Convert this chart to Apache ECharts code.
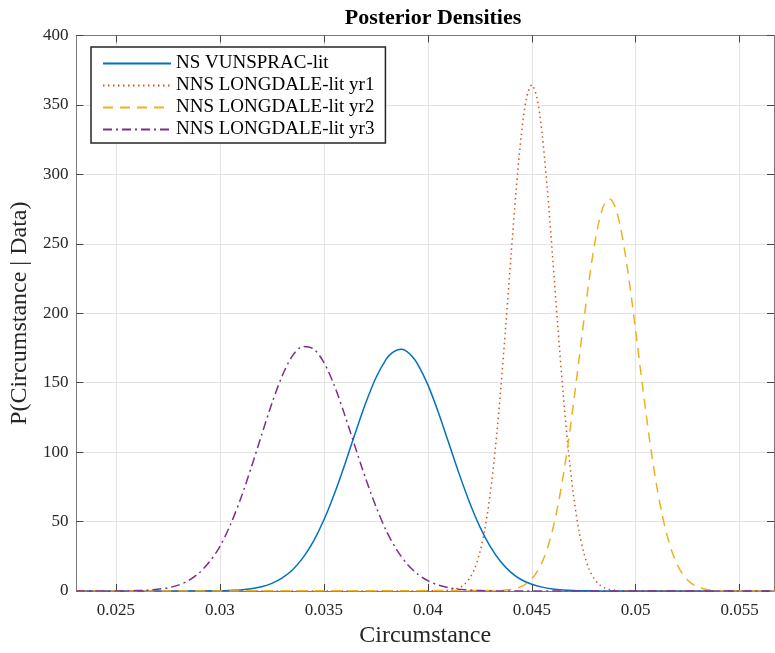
<!DOCTYPE html>
<html>
<head>
<meta charset="utf-8">
<script src="https://cdn.jsdelivr.net/npm/echarts@6/dist/echarts.min.js"></script>
<style>html,body{margin:0;padding:0;background:#fff;}#c{width:775px;height:653px;}</style>
</head>
<body>
<div id="c"></div>
<script>
// ---- data ----
const seriesNames = ['NS VUNSPRAC-lit', 'NNS LONGDALE-lit yr1', 'NNS LONGDALE-lit yr2', 'NNS LONGDALE-lit yr3'];
const xMin = 0.0231;
const xMax = 0.05665;
const xTicks = [0.025, 0.03, 0.035, 0.04, 0.045, 0.05, 0.055];
const yTicks = [0, 50, 100, 150, 200, 250, 300, 350, 400];

const blueX = [0.0231, 0.0300, 0.0305, 0.0310, 0.0315, 0.0320, 0.0325, 0.0330, 0.0335, 0.0340, 0.0345, 0.0350, 0.0355, 0.0360, 0.0365, 0.0370, 0.0375, 0.0380, 0.03825, 0.0385, 0.03875, 0.0390, 0.03925, 0.0395, 0.0400, 0.0405, 0.0410, 0.0415, 0.0420, 0.0425, 0.0430, 0.0435, 0.0440, 0.0445, 0.0450, 0.0455, 0.0460, 0.0465, 0.0470, 0.0475, 0.0485, 0.05665];
const blueY = [0, 0.1, 0.4, 0.8, 1.6, 3.1, 5.5, 9.4, 15.3, 24.0, 35.8, 51.1, 69.7, 90.8, 113.2, 134.8, 153.4, 166.9, 171.1, 173.4, 174.0, 172.4, 168.9, 163.7, 148.6, 128.9, 106.9, 84.7, 64.1, 46.4, 32.1, 21.2, 13.4, 8.1, 4.9, 2.8, 1.5, 0.8, 0.4, 0.2, 0, 0];

const redX = [0.0231, 0.0405, 0.0410, 0.04125, 0.0415, 0.04175, 0.0420, 0.04225, 0.0425, 0.04275, 0.0430, 0.04325, 0.0435, 0.04375, 0.0440, 0.04425, 0.0445, 0.04475, 0.0450, 0.04525, 0.0455, 0.04575, 0.0460, 0.04625, 0.0465, 0.04675, 0.0470, 0.04725, 0.0475, 0.04775, 0.0480, 0.04825, 0.0485, 0.04875, 0.0490, 0.0495, 0.05665];
const redY = [0, 0.1, 0.5, 1.1, 2.3, 4.6, 8.9, 16.0, 27.6, 45.0, 69.8, 102.8, 143.8, 191.1, 241.2, 288.9, 328.7, 355.2, 364.5, 355.2, 328.7, 288.9, 241.2, 191.1, 143.8, 102.8, 69.8, 45.0, 27.6, 16.0, 8.9, 4.6, 2.3, 1.1, 0.5, 0.1, 0];

const yellowX = [0.0231, 0.0435, 0.0440, 0.04425, 0.0445, 0.04475, 0.0450, 0.04525, 0.0455, 0.04575, 0.0460, 0.04625, 0.0465, 0.04675, 0.0470, 0.04725, 0.0475, 0.04775, 0.0480, 0.04825, 0.0485, 0.04875, 0.0490, 0.04925, 0.0495, 0.04975, 0.0500, 0.05025, 0.0505, 0.05075, 0.0510, 0.05125, 0.0515, 0.05175, 0.0520, 0.05225, 0.0525, 0.05275, 0.0530, 0.05325, 0.0535, 0.0540, 0.0545, 0.05665];
const yellowY = [0, 0.4, 1.0, 1.9, 3.2, 5.4, 8.7, 13.7, 20.8, 30.7, 43.9, 60.9, 81.8, 106.4, 134.2, 164.0, 194.3, 222.9, 247.9, 267.2, 279.0, 282.3, 276.9, 263.1, 242.3, 216.3, 187.0, 156.8, 127.3, 100.2, 76.4, 56.5, 40.4, 28.1, 18.9, 12.3, 7.8, 4.7, 2.8, 1.6, 0.9, 0.2, 0, 0];

const purpleX = [0.0231, 0.0255, 0.0260, 0.0265, 0.0270, 0.0275, 0.0280, 0.0285, 0.0290, 0.0295, 0.0300, 0.0305, 0.0310, 0.0315, 0.0320, 0.0325, 0.0330, 0.0335, 0.0340, 0.0345, 0.0350, 0.0355, 0.0360, 0.0365, 0.0370, 0.0375, 0.0380, 0.0385, 0.0390, 0.0395, 0.0400, 0.0405, 0.0410, 0.0415, 0.0420, 0.0425, 0.0435, 0.05665];
const purpleY = [0, 0.1, 0.3, 0.6, 1.2, 2.3, 4.2, 7.6, 13.0, 21.0, 32.0, 47.5, 66.5, 88.5, 112.0, 135.0, 155.0, 169.5, 176.1, 174.4, 164.7, 148.1, 127.0, 104.0, 81.5, 61.0, 43.5, 29.8, 19.5, 12.3, 7.5, 4.3, 2.4, 1.2, 0.6, 0.3, 0, 0];

// ---- chart ----
const FONT = 'Liberation Serif';
const AXIS = '#7a7a7a';
const TXT = '#262626';
function pairs(xs, ys) { return xs.map((x, i) => [x, ys[i]]); }

const colors = ['#0072BD', '#D95319', '#EDB120', '#7E2F8E'];
const dashes = ['solid', [1.5, 3.5], [10, 7], [9, 4, 2, 4]];
const dataSets = [pairs(blueX, blueY), pairs(redX, redY), pairs(yellowX, yellowY), pairs(purpleX, purpleY)];

const series = seriesNames.map((name, i) => ({
  name: name,
  type: 'line',
  data: dataSets[i],
  symbol: 'none',
  smooth: 0.3,
  xAxisIndex: 0,
  yAxisIndex: 0,
  lineStyle: { color: colors[i], width: 1.5, type: dashes[i] },
  itemStyle: { color: colors[i] },
  z: 3 + i
}));

const chart = echarts.init(document.getElementById('c'), null, { renderer: 'canvas' });
chart.setOption({
  animation: false,
  backgroundColor: '#fff',
  textStyle: { fontFamily: FONT },
  title: {
    text: 'Posterior Densities',
    left: 428, top: 2, textAlign: 'center',
    textStyle: { fontFamily: FONT, fontWeight: 'bold', fontSize: 22, color: '#000' }
  },
  legend: {
    orient: 'vertical',
    left: 91, top: 47,
    padding: [7, 11, 4, 11],
    itemWidth: 68, itemHeight: 19, itemGap: 3,
    backgroundColor: '#fff',
    borderColor: '#262626', borderWidth: 1.5, borderRadius: 0,
    itemStyle: { opacity: 0 },
    textStyle: { fontFamily: FONT, fontSize: 19, color: '#000' },
    data: seriesNames
  },
  grid: { left: 76, right: 1, top: 35.5, bottom: 60.5, containLabel: false },
  xAxis: [{
    type: 'value', min: xMin, max: xMax, position: 'bottom',
    name: 'Circumstance', nameLocation: 'middle', nameGap: 33,
    nameTextStyle: { fontFamily: FONT, fontSize: 24, color: TXT },
    axisLine: { show: true, onZero: false, lineStyle: { color: AXIS, width: 1 } },
    axisTick: { show: true, inside: true, length: 7, customValues: xTicks, lineStyle: { color: '#444' } },
    axisLabel: { customValues: xTicks, fontFamily: FONT, fontSize: 17, color: TXT, margin: 11,
      formatter: v => String(+v.toFixed(3)) },
    splitLine: { show: true, customValues: xTicks, lineStyle: { color: '#e3e3e3', width: 1 } }
  }, {
    type: 'value', min: xMin, max: xMax, position: 'top',
    axisLine: { show: true, onZero: false, lineStyle: { color: AXIS, width: 1 } },
    axisTick: { show: true, inside: true, length: 7, customValues: xTicks, lineStyle: { color: '#444' } },
    axisLabel: { show: false },
    splitLine: { show: false }
  }],
  yAxis: [{
    type: 'value', min: 0, max: 400, interval: 50, position: 'left',
    name: 'P(Circumstance | Data)', nameLocation: 'middle', nameGap: 43,
    nameTextStyle: { fontFamily: FONT, fontSize: 24, color: TXT },
    axisLine: { show: true, onZero: false, lineStyle: { color: AXIS, width: 1 } },
    axisTick: { show: true, inside: true, length: 7, lineStyle: { color: '#444' } },
    axisLabel: { fontFamily: FONT, fontSize: 17, color: TXT, margin: 8 },
    splitLine: { show: true, lineStyle: { color: '#e3e3e3', width: 1 } }
  }, {
    type: 'value', min: 0, max: 400, interval: 50, position: 'right',
    axisLine: { show: true, onZero: false, lineStyle: { color: AXIS, width: 1 } },
    axisTick: { show: true, inside: true, length: 7, lineStyle: { color: '#444' } },
    axisLabel: { show: false },
    splitLine: { show: false }
  }],
  series: series
});
</script>
</body>
</html>
